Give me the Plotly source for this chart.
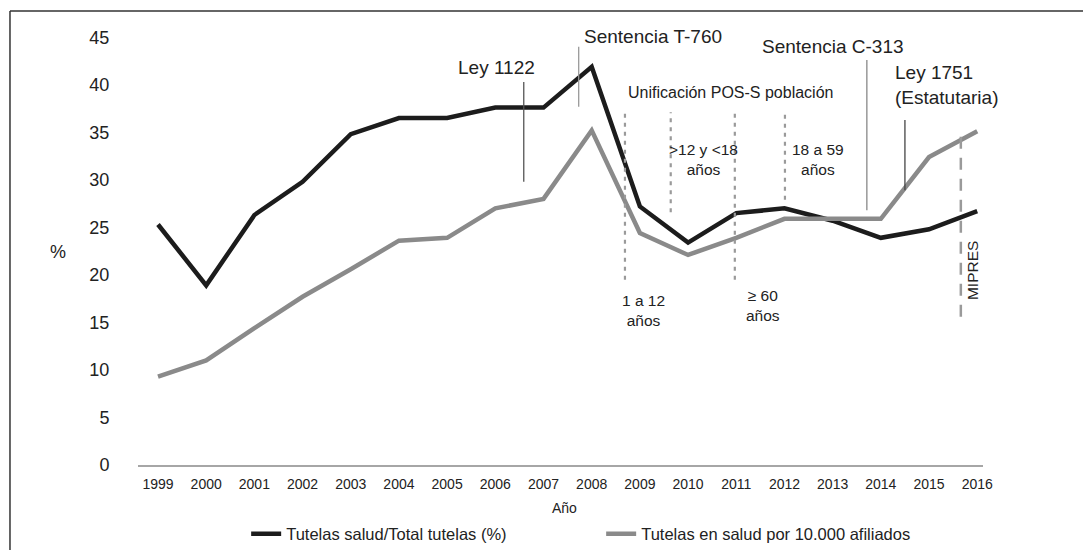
import plotly.graph_objects as go

# Data
years = list(range(1999, 2017))
tutelas_pct = [25.3, 18.9, 26.3, 29.8, 34.8, 36.5, 36.5, 37.6, 37.6, 41.9,
               27.2, 23.4, 26.5, 27.0, 25.7, 23.9, 24.8, 26.7]
tutelas_10k = [9.3, 11.0, 14.4, 17.7, 20.6, 23.6, 23.9, 27.0, 28.0, 35.2,
               24.4, 22.1, 23.9, 25.9, 25.9, 25.9, 32.4, 35.1]

# Event marker lines: x position, y from, y to, colour
event_lines = [
    (2006.59, 29.8, 40.3, "#555555"),   # Ley 1122
    (2007.73, 37.7, 44.0, "#999999"),   # Sentencia T-760
    (2013.71, 26.8, 42.6, "#888888"),   # Sentencia C-313
    (2014.50, 28.9, 36.3, "#444444"),   # Ley 1751
]
pos_lines = [
    (2008.69, 19.5, 37.1),
    (2009.64, 26.6, 37.1),
    (2010.97, 19.5, 37.1),
    (2012.01, 27.9, 37.1),
]
mipres_line = (2015.66, 15.6, 35.0)

font_family = "Liberation Sans, Arial, sans-serif"

fig = go.Figure()

fig.add_trace(go.Scatter(
    x=years, y=tutelas_pct, mode="lines",
    name="Tutelas salud/Total tutelas (%)",
    line=dict(color="#1c1c1c", width=4.5),
))
fig.add_trace(go.Scatter(
    x=years, y=tutelas_10k, mode="lines",
    name="Tutelas en salud por 10.000 afiliados",
    line=dict(color="#8a8a8a", width=4.5),
))

shapes = []
for x, y0, y1, color in event_lines:
    shapes.append(dict(type="line", xref="x", yref="y", x0=x, x1=x, y0=y0, y1=y1,
                       line=dict(color=color, width=1.3)))
for x, y0, y1 in pos_lines:
    shapes.append(dict(type="line", xref="x", yref="y", x0=x, x1=x, y0=y0, y1=y1,
                       line=dict(color="#9a9a9a", width=2.2, dash="4px,5px")))
shapes.append(dict(type="line", xref="x", yref="y", x0=mipres_line[0], x1=mipres_line[0],
                   y0=mipres_line[1], y1=mipres_line[2],
                   line=dict(color="#9a9a9a", width=2.5, dash="12px,9px")))
# outer frame (left and top edges visible)
shapes.append(dict(type="line", xref="paper", yref="paper", x0=-0.1515, x1=-0.1515,
                   y0=-0.2, y1=1.027, line=dict(color="#333333", width=1.5)))
shapes.append(dict(type="line", xref="paper", yref="paper", x0=-0.1515, x1=1.12,
                   y0=1.027, y1=1.027, line=dict(color="#333333", width=1.5)))

big = dict(family=font_family, size=19, color="#222222")
small = dict(family=font_family, size=15.5, color="#222222")

annotations = [
    dict(x=2006.03, y=41.8, text="Ley 1122", font=big),
    dict(x=2009.27, y=45.1, text="Sentencia T-760", font=big),
    dict(x=2013.0, y=44.0, text="Sentencia C-313", font=big),
    dict(x=2014.25, y=40.0, text="Ley 1751<br>(Estatutaria)", font=big,
         xanchor="left", align="left"),
    dict(x=2010.89, y=39.2, text="Unificación POS-S población", font=dict(small, size=16)),
    dict(x=2010.33, y=32.1, text="&gt;12 y &lt;18<br>años", font=small),
    dict(x=2012.69, y=32.1, text="18 a 59<br>años", font=small),
    dict(x=2009.08, y=16.3, text="1 a 12<br>años", font=small),
    dict(x=2011.55, y=16.8, text="≥ 60<br>años", font=small),
    dict(x=2015.89, y=20.5, text="MIPRES", font=small, textangle=-90),
    dict(xref="paper", yref="paper", x=-0.0947, y=0.482, text="%",
         xanchor="center", yanchor="middle",
         font=dict(family=font_family, size=18, color="#222222")),
    dict(xref="paper", yref="paper", x=0.505, y=-0.097, text="Año",
         xanchor="center", yanchor="middle",
         font=dict(family=font_family, size=14, color="#222222")),
]
for a in annotations:
    a.setdefault("xref", "x")
    a.setdefault("yref", "y")
    a.setdefault("showarrow", False)

fig.update_layout(
    width=1083, height=550,
    margin=dict(l=138, r=100, t=23, b=85, autoexpand=False),
    paper_bgcolor="white", plot_bgcolor="white",
    font=dict(family=font_family, color="#222222"),
    showlegend=True,
    legend=dict(orientation="h", x=0.128, xanchor="left", y=-0.156, yanchor="middle",
                font=dict(family=font_family, size=16.5, color="#222222"),
                entrywidth=310, bgcolor="rgba(0,0,0,0)"),
    shapes=shapes,
    annotations=annotations,
    xaxis=dict(range=[1998.585, 2016.12], tickmode="array", tickvals=years,
               ticktext=[str(y) for y in years], showgrid=False, zeroline=False,
               showline=True, linecolor="#a6a6a6", linewidth=1.5,
               ticks="outside", ticklen=5, tickcolor="rgba(0,0,0,0)",
               tickfont=dict(family=font_family, size=14, color="#222222")),
    yaxis=dict(range=[0, 46.5], tickvals=list(range(0, 50, 5)), showgrid=False,
               zeroline=False, showline=False, ticks="outside", ticklen=24,
               tickcolor="rgba(0,0,0,0)",
               tickfont=dict(family=font_family, size=18, color="#222222")),
)

# drop the page's default body margin so the figure fills the window exactly
page_js = ("document.body.style.margin='0';"
           "document.body.style.overflow='hidden';"
           "document.documentElement.style.overflow='hidden';")
fig.write_html("out.html", post_script=page_js, config={"displayModeBar": False})
